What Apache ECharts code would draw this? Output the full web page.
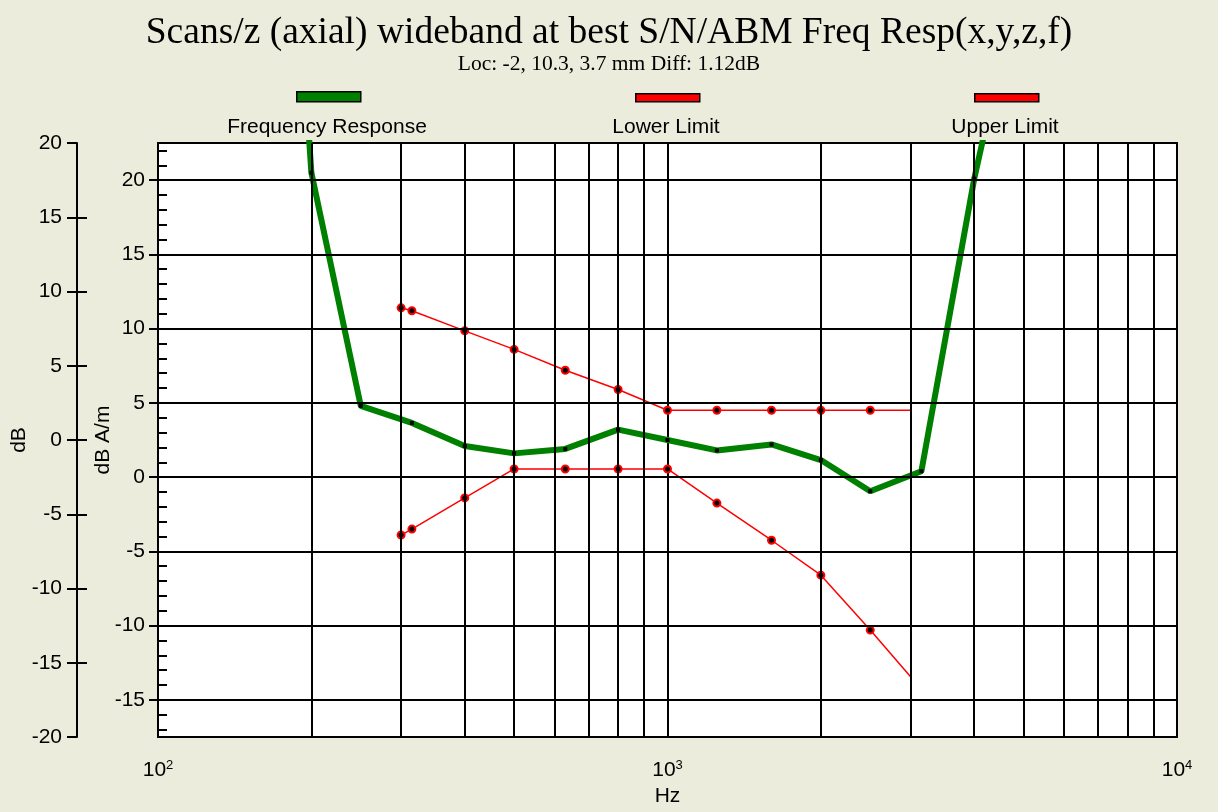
<!DOCTYPE html>
<html>
<head>
<meta charset="utf-8">
<title>Freq Resp</title>
<script src="https://cdn.jsdelivr.net/npm/echarts@6/dist/echarts.min.js"></script>
<style>
  html, body { margin: 0; padding: 0; background: #ececdc; }
  #main { width: 1218px; height: 812px; }
</style>
</head>
<body>
<div id="main"></div>
<script>
// series names (also legend labels)
var seriesNames = ['Frequency Response', 'Lower Limit', 'Upper Limit'];

// frequency response, 1/3 octave, dB A/m
var respFreqs = [160, 200, 250, 315, 400, 500, 630, 800, 1000, 1250, 1600, 2000, 2500, 3150, 4000, 5000];
var respValues = [70, 20.5, 4.8, 3.65, 2.1, 1.6, 1.9, 3.2, 2.5, 1.8, 2.2, 1.15, -0.95, 0.4, 20.1, 35];

// limit mask
var limitFreqs = [300, 315, 400, 500, 630, 800, 1000, 1250, 1600, 2000, 2500, 3000];
var lowerValues = [-3.9, -3.5, -1.4, 0.55, 0.55, 0.55, 0.55, -1.75, -4.25, -6.6, -10.3, -13.45];
var upperValues = [11.4, 11.2, 9.85, 8.6, 7.2, 5.9, 4.5, 4.5, 4.5, 4.5, 4.5, 4.5];

// axes
var xDecades = [100, 1000, 10000];
var xMinorFreqs = [200, 300, 400, 500, 600, 700, 800, 900, 2000, 3000, 4000, 5000, 6000, 7000, 8000, 9000];
var innerMajor = [-15, -10, -5, 0, 5, 10, 15, 20];
var innerMinor = [-17, -16, -14, -13, -12, -11, -9, -8, -7, -6, -4, -3, -2, -1, 1, 2, 3, 4, 6, 7, 8, 9, 11, 12, 13, 14, 16, 17, 18, 19, 21, 22];
var outerInner = [-15, -10, -5, 0, 5, 10, 15];

function pairs(xs, ys) {
  return xs.map(function (x, i) { return [x, ys[i]]; });
}

var chart = echarts.init(document.getElementById('main'), null, { renderer: 'canvas' });

var FONT = 'Liberation Sans';
var black = { color: '#000', width: 2 };

var option = {
  backgroundColor: '#ececdc',
  animation: false,
  title: {
    text: 'Scans/z (axial) wideband at best S/N/ABM Freq Resp(x,y,z,f)',
    subtext: 'Loc: -2, 10.3, 3.7 mm Diff: 1.12dB',
    left: 'center',
    top: 9,
    itemGap: 1,
    textStyle: { fontFamily: 'Liberation Serif', fontSize: 37.5, fontWeight: 'normal', color: '#000' },
    subtextStyle: { fontFamily: 'Liberation Serif', fontSize: 21.5, color: '#000' }
  },
  legend: [
    {
      data: [seriesNames[0]], left: 296, top: 91, padding: 0,
      icon: 'rect', itemWidth: 64, itemHeight: 10, selectedMode: false,
      formatter: function () { return ''; },
      itemStyle: { color: '#008000', borderColor: '#000', borderWidth: 1.5 },
      lineStyle: { width: 0 }
    },
    {
      data: [seriesNames[1]], left: 635, top: 93, padding: 0,
      icon: 'rect', itemWidth: 64, itemHeight: 8, selectedMode: false,
      formatter: function () { return ''; },
      itemStyle: { color: '#ff0000', borderColor: '#000', borderWidth: 1.5 },
      lineStyle: { width: 0 }
    },
    {
      data: [seriesNames[2]], left: 974, top: 93, padding: 0,
      icon: 'rect', itemWidth: 64, itemHeight: 8, selectedMode: false,
      formatter: function () { return ''; },
      itemStyle: { color: '#ff0000', borderColor: '#000', borderWidth: 1.5 },
      lineStyle: { width: 0 }
    }
  ],
  // legend labels sit below the swatches
  graphic: [
    { type: 'text', x: 327, y: 127, silent: true,
      style: { text: seriesNames[0], font: '21px "' + FONT + '"', fill: '#000', align: 'center', verticalAlign: 'middle' } },
    { type: 'text', x: 666, y: 127, silent: true,
      style: { text: seriesNames[1], font: '21px "' + FONT + '"', fill: '#000', align: 'center', verticalAlign: 'middle' } },
    { type: 'text', x: 1005, y: 127, silent: true,
      style: { text: seriesNames[2], font: '21px "' + FONT + '"', fill: '#000', align: 'center', verticalAlign: 'middle' } }
  ],
  grid: {
    left: 158, top: 143, width: 1019, height: 594,
    outerBoundsMode: 'none',
    show: true, backgroundColor: '#fff', borderColor: '#000', borderWidth: 2
  },
  xAxis: {
    type: 'log', logBase: 10, min: 100, max: 10000,
    name: 'Hz', nameLocation: 'middle', nameGap: 48,
    nameTextStyle: { fontFamily: FONT, fontSize: 21, color: '#000' },
    axisLine: { show: true, lineStyle: black },
    axisTick: { show: true, length: 15, lineStyle: black },
    axisLabel: {
      margin: 22, color: '#000',
      formatter: function (v) {
        return '{b|10}{s|' + Math.round(Math.log10(v)) + '}';
      },
      rich: {
        b: { fontFamily: FONT, fontSize: 21, color: '#000' },
        s: { fontFamily: FONT, fontSize: 13, color: '#000', padding: [0, 0, 10, 0] }
      }
    },
    splitLine: { show: true, lineStyle: black },
    minorTick: { show: false },
    minorSplitLine: { show: false }
  },
  yAxis: [
    {
      // data axis, dB A/m
      type: 'value', position: 'left', offset: 0, min: -17.5, max: 22.5,
      name: 'dB A/m', nameLocation: 'middle', nameGap: 44, nameRotate: 90,
      nameMoveOverlap: false,
      nameTextStyle: { fontFamily: FONT, fontSize: 21, color: '#000' },
      axisLine: { show: true, lineStyle: black },
      axisTick: { show: true, customValues: innerMajor, length: 9, lineStyle: black },
      axisLabel: { customValues: innerMajor, margin: 13, fontFamily: FONT, fontSize: 21, color: '#000' },
      splitLine: { show: false }
    },
    {
      // minor ticks on the inner axis
      type: 'value', position: 'left', offset: 0, min: -17.5, max: 22.5,
      axisLine: { show: false },
      axisTick: { show: true, customValues: innerMinor, inside: true, length: 9, lineStyle: black },
      axisLabel: { show: false },
      splitLine: { show: false }
    },
    {
      // outer axis, dB
      type: 'value', position: 'left', offset: 81, min: -20, max: 20, interval: 5,
      name: 'dB', nameLocation: 'middle', nameGap: 47, nameRotate: 90,
      nameMoveOverlap: false,
      nameTextStyle: { fontFamily: FONT, fontSize: 21, color: '#000' },
      axisLine: { show: true, lineStyle: black },
      axisTick: { show: true, length: 10, lineStyle: black },
      axisLabel: { margin: 15, fontFamily: FONT, fontSize: 21, color: '#000' },
      splitLine: { show: false }
    },
    {
      type: 'value', position: 'left', offset: 81, min: -20, max: 20,
      axisLine: { show: false },
      axisTick: { show: true, customValues: outerInner, inside: true, length: 10, lineStyle: black },
      axisLabel: { show: false },
      splitLine: { show: false }
    }
  ],
  series: [
    {
      // grid lines
      name: 'grid', type: 'line', data: [], z: 1, silent: true,
      markLine: {
        silent: true, symbol: ['none', 'none'], animation: false,
        label: { show: false },
        lineStyle: { color: '#000', width: 2, type: 'solid' },
        emphasis: { disabled: true },
        data: innerMajor.map(function (v) { return { yAxis: v }; })
          .concat(xMinorFreqs.map(function (f) { return { xAxis: f }; }))
      }
    },
    {
      name: seriesNames[0], type: 'line', z: 4, silent: true,
      data: pairs(respFreqs, respValues),
      lineStyle: { color: '#008000', width: 6 },
      symbol: 'rect', symbolSize: 4, showAllSymbol: true,
      itemStyle: { color: '#000' }
    },
    {
      name: seriesNames[1], type: 'line', z: 3, silent: true,
      data: pairs(limitFreqs, lowerValues),
      lineStyle: { color: '#ff0000', width: 1.5 },
      symbol: function (v) { return v[0] === 3000 ? 'none' : 'circle'; },
      symbolSize: 7, showAllSymbol: true,
      itemStyle: { color: '#000', borderColor: '#ff0000', borderWidth: 2 }
    },
    {
      name: seriesNames[2], type: 'line', z: 3, silent: true,
      data: pairs(limitFreqs, upperValues),
      lineStyle: { color: '#ff0000', width: 1.5 },
      symbol: function (v) { return v[0] === 3000 ? 'none' : 'circle'; },
      symbolSize: 7, showAllSymbol: true,
      itemStyle: { color: '#000', borderColor: '#ff0000', borderWidth: 2 }
    }
  ]
};
chart.setOption(option);
</script>
</body>
</html>
